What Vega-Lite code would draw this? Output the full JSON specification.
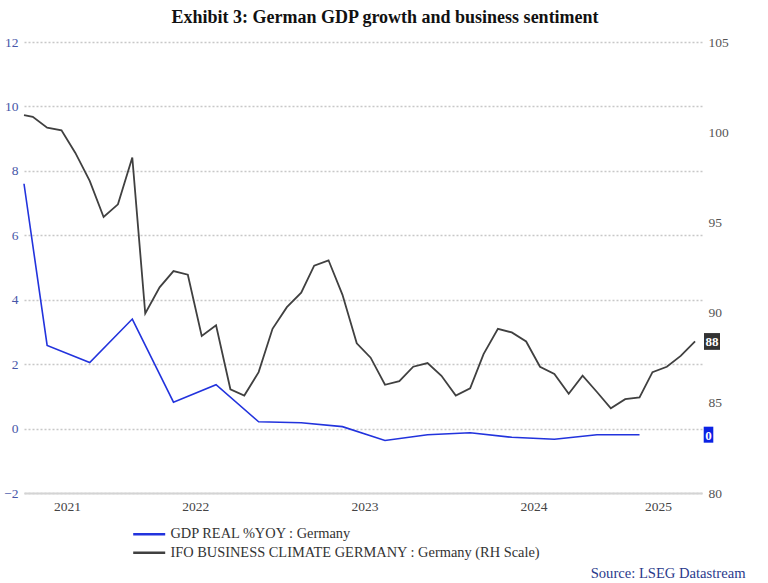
{
  "$schema": "https://vega.github.io/schema/vega-lite/v6.json",
  "width": 678,
  "height": 451,
  "autosize": {"type": "none"},
  "padding": {"left": 24, "top": 42, "right": 66, "bottom": 90},
  "background": "#ffffff",
  "title": {
    "text": "Exhibit 3: German GDP growth and business sentiment",
    "font": "Liberation Serif",
    "fontSize": 18,
    "fontWeight": "bold",
    "color": "#111111",
    "anchor": "middle",
    "dx": 22,
    "offset": 8.5
  },
  "config": {
    "view": {"stroke": null},
    "font": "Liberation Serif"
  },
  "datasets": {
    "gdp": [
      {"series": "GDP REAL %YOY : Germany", "date": "2021-06-26", "value": 7.6},
      {"series": "GDP REAL %YOY : Germany", "date": "2021-08-15", "value": 2.58},
      {"series": "GDP REAL %YOY : Germany", "date": "2021-11-15", "value": 2.05},
      {"series": "GDP REAL %YOY : Germany", "date": "2022-02-15", "value": 3.4},
      {"series": "GDP REAL %YOY : Germany", "date": "2022-05-15", "value": 0.82},
      {"series": "GDP REAL %YOY : Germany", "date": "2022-08-15", "value": 1.36},
      {"series": "GDP REAL %YOY : Germany", "date": "2022-11-15", "value": 0.21},
      {"series": "GDP REAL %YOY : Germany", "date": "2023-02-15", "value": 0.18},
      {"series": "GDP REAL %YOY : Germany", "date": "2023-05-15", "value": 0.06},
      {"series": "GDP REAL %YOY : Germany", "date": "2023-08-15", "value": -0.37},
      {"series": "GDP REAL %YOY : Germany", "date": "2023-11-15", "value": -0.19},
      {"series": "GDP REAL %YOY : Germany", "date": "2024-02-15", "value": -0.13},
      {"series": "GDP REAL %YOY : Germany", "date": "2024-05-15", "value": -0.27},
      {"series": "GDP REAL %YOY : Germany", "date": "2024-08-15", "value": -0.33},
      {"series": "GDP REAL %YOY : Germany", "date": "2024-11-15", "value": -0.19},
      {"series": "GDP REAL %YOY : Germany", "date": "2025-02-15", "value": -0.19}
    ],
    "ifo": [
      {"series": "IFO BUSINESS CLIMATE GERMANY : Germany (RH Scale)", "date": "2021-06-26", "value": 100.95},
      {"series": "IFO BUSINESS CLIMATE GERMANY : Germany (RH Scale)", "date": "2021-07-15", "value": 100.85},
      {"series": "IFO BUSINESS CLIMATE GERMANY : Germany (RH Scale)", "date": "2021-08-15", "value": 100.25},
      {"series": "IFO BUSINESS CLIMATE GERMANY : Germany (RH Scale)", "date": "2021-09-15", "value": 100.1},
      {"series": "IFO BUSINESS CLIMATE GERMANY : Germany (RH Scale)", "date": "2021-10-15", "value": 98.85},
      {"series": "IFO BUSINESS CLIMATE GERMANY : Germany (RH Scale)", "date": "2021-11-15", "value": 97.3},
      {"series": "IFO BUSINESS CLIMATE GERMANY : Germany (RH Scale)", "date": "2021-12-15", "value": 95.3},
      {"series": "IFO BUSINESS CLIMATE GERMANY : Germany (RH Scale)", "date": "2022-01-15", "value": 96.0},
      {"series": "IFO BUSINESS CLIMATE GERMANY : Germany (RH Scale)", "date": "2022-02-15", "value": 98.6},
      {"series": "IFO BUSINESS CLIMATE GERMANY : Germany (RH Scale)", "date": "2022-03-15", "value": 89.95},
      {"series": "IFO BUSINESS CLIMATE GERMANY : Germany (RH Scale)", "date": "2022-04-15", "value": 91.4},
      {"series": "IFO BUSINESS CLIMATE GERMANY : Germany (RH Scale)", "date": "2022-05-15", "value": 92.3},
      {"series": "IFO BUSINESS CLIMATE GERMANY : Germany (RH Scale)", "date": "2022-06-15", "value": 92.1},
      {"series": "IFO BUSINESS CLIMATE GERMANY : Germany (RH Scale)", "date": "2022-07-15", "value": 88.7},
      {"series": "IFO BUSINESS CLIMATE GERMANY : Germany (RH Scale)", "date": "2022-08-15", "value": 89.3},
      {"series": "IFO BUSINESS CLIMATE GERMANY : Germany (RH Scale)", "date": "2022-09-15", "value": 85.75},
      {"series": "IFO BUSINESS CLIMATE GERMANY : Germany (RH Scale)", "date": "2022-10-15", "value": 85.4},
      {"series": "IFO BUSINESS CLIMATE GERMANY : Germany (RH Scale)", "date": "2022-11-15", "value": 86.7},
      {"series": "IFO BUSINESS CLIMATE GERMANY : Germany (RH Scale)", "date": "2022-12-15", "value": 89.1},
      {"series": "IFO BUSINESS CLIMATE GERMANY : Germany (RH Scale)", "date": "2023-01-15", "value": 90.3},
      {"series": "IFO BUSINESS CLIMATE GERMANY : Germany (RH Scale)", "date": "2023-02-15", "value": 91.1},
      {"series": "IFO BUSINESS CLIMATE GERMANY : Germany (RH Scale)", "date": "2023-03-15", "value": 92.6},
      {"series": "IFO BUSINESS CLIMATE GERMANY : Germany (RH Scale)", "date": "2023-04-15", "value": 92.9},
      {"series": "IFO BUSINESS CLIMATE GERMANY : Germany (RH Scale)", "date": "2023-05-15", "value": 91.0},
      {"series": "IFO BUSINESS CLIMATE GERMANY : Germany (RH Scale)", "date": "2023-06-15", "value": 88.3},
      {"series": "IFO BUSINESS CLIMATE GERMANY : Germany (RH Scale)", "date": "2023-07-15", "value": 87.5},
      {"series": "IFO BUSINESS CLIMATE GERMANY : Germany (RH Scale)", "date": "2023-08-15", "value": 86.0},
      {"series": "IFO BUSINESS CLIMATE GERMANY : Germany (RH Scale)", "date": "2023-09-15", "value": 86.2},
      {"series": "IFO BUSINESS CLIMATE GERMANY : Germany (RH Scale)", "date": "2023-10-15", "value": 87.0},
      {"series": "IFO BUSINESS CLIMATE GERMANY : Germany (RH Scale)", "date": "2023-11-15", "value": 87.2},
      {"series": "IFO BUSINESS CLIMATE GERMANY : Germany (RH Scale)", "date": "2023-12-15", "value": 86.5},
      {"series": "IFO BUSINESS CLIMATE GERMANY : Germany (RH Scale)", "date": "2024-01-15", "value": 85.4},
      {"series": "IFO BUSINESS CLIMATE GERMANY : Germany (RH Scale)", "date": "2024-02-15", "value": 85.8},
      {"series": "IFO BUSINESS CLIMATE GERMANY : Germany (RH Scale)", "date": "2024-03-15", "value": 87.7},
      {"series": "IFO BUSINESS CLIMATE GERMANY : Germany (RH Scale)", "date": "2024-04-15", "value": 89.1},
      {"series": "IFO BUSINESS CLIMATE GERMANY : Germany (RH Scale)", "date": "2024-05-15", "value": 88.9},
      {"series": "IFO BUSINESS CLIMATE GERMANY : Germany (RH Scale)", "date": "2024-06-15", "value": 88.4},
      {"series": "IFO BUSINESS CLIMATE GERMANY : Germany (RH Scale)", "date": "2024-07-15", "value": 87.0},
      {"series": "IFO BUSINESS CLIMATE GERMANY : Germany (RH Scale)", "date": "2024-08-15", "value": 86.6},
      {"series": "IFO BUSINESS CLIMATE GERMANY : Germany (RH Scale)", "date": "2024-09-15", "value": 85.5},
      {"series": "IFO BUSINESS CLIMATE GERMANY : Germany (RH Scale)", "date": "2024-10-15", "value": 86.5},
      {"series": "IFO BUSINESS CLIMATE GERMANY : Germany (RH Scale)", "date": "2024-11-15", "value": 85.6},
      {"series": "IFO BUSINESS CLIMATE GERMANY : Germany (RH Scale)", "date": "2024-12-15", "value": 84.7},
      {"series": "IFO BUSINESS CLIMATE GERMANY : Germany (RH Scale)", "date": "2025-01-15", "value": 85.2},
      {"series": "IFO BUSINESS CLIMATE GERMANY : Germany (RH Scale)", "date": "2025-02-15", "value": 85.3},
      {"series": "IFO BUSINESS CLIMATE GERMANY : Germany (RH Scale)", "date": "2025-03-15", "value": 86.7},
      {"series": "IFO BUSINESS CLIMATE GERMANY : Germany (RH Scale)", "date": "2025-04-15", "value": 87.0},
      {"series": "IFO BUSINESS CLIMATE GERMANY : Germany (RH Scale)", "date": "2025-05-15", "value": 87.6},
      {"series": "IFO BUSINESS CLIMATE GERMANY : Germany (RH Scale)", "date": "2025-06-15", "value": 88.4}
    ],
    "gdpEnd": [{"value": -0.19, "label": "0"}],
    "ifoEnd": [{"value": 88.4, "label": "88"}]
  },
  "layer": [
    {
      "layer": [
        {
          "data": {"name": "gdp"},
          "mark": {"type": "line", "strokeWidth": 1.6, "interpolate": "linear"},
          "encoding": {
            "x": {
              "field": "date",
              "type": "temporal",
              "scale": {
                "type": "utc",
                "domain": [
                  {"year": 2021, "month": 6, "date": 26, "utc": true},
                  {"year": 2025, "month": 6, "date": 30, "utc": true}
                ]
              },
              "axis": {
                "values": [
                  {"year": 2021, "month": 9, "date": 27, "utc": true},
                  {"year": 2022, "month": 7, "date": 1, "utc": true},
                  {"year": 2023, "month": 7, "date": 2, "utc": true},
                  {"year": 2024, "month": 7, "date": 1, "utc": true},
                  {"year": 2025, "month": 3, "date": 27, "utc": true}
                ],
                "labelExpr": "utcFormat(datum.value, '%Y')",
                "grid": false,
                "ticks": false,
                "domain": true,
                "domainColor": "#d4d4d4",
                "domainWidth": 2,
                "labelFont": "Liberation Serif",
                "labelFontSize": 13.5,
                "labelColor": "#444444",
                "labelPadding": 6,
                "labelFlush": false,
                "labelOverlap": false,
                "title": "Source: LSEG Datastream",
                "titleFont": "Liberation Serif",
                "titleFontSize": 14.6,
                "titleFontWeight": "normal",
                "titleColor": "#2b3a8c",
                "titleAnchor": null,
                "titleAlign": "right",
                "titleBaseline": "alphabetic",
                "titleX": 721,
                "titleY": 84
              }
            },
            "y": {
              "field": "value",
              "type": "quantitative",
              "scale": {"domain": [-2, 12], "nice": false, "zero": false},
              "axis": {
                "orient": "left",
                "values": [-2, 0, 2, 4, 6, 8, 10, 12],
                "title": null,
                "domain": false,
                "ticks": false,
                "grid": true,
                "gridColor": "#c8c8c8",
                "gridDash": [2, 2],
                "gridWidth": 1.5,
                "labelFont": "Liberation Serif",
                "labelFontSize": 13.5,
                "labelColor": "#4656a8",
                "labelPadding": 6
              }
            },
            "color": {
              "field": "series",
              "type": "nominal",
              "scale": {
                "domain": ["GDP REAL %YOY : Germany", "IFO BUSINESS CLIMATE GERMANY : Germany (RH Scale)"],
                "range": ["#2233dd", "#404040"]
              },
              "legend": {
                "orient": "none",
                "legendX": 109,
                "legendY": 485,
                "title": null,
                "padding": 0,
                "symbolType": "M-8,0H8",
                "symbolSize": 16,
                "symbolOffset": 9,
                "symbolStrokeWidth": 2.5,
                "labelFont": "Liberation Serif",
                "labelFontSize": 14.4,
                "labelColor": "#333333",
                "labelOffset": 14,
                "labelLimit": 600,
                "rowPadding": 3.6
              }
            }
          }
        },
        {
          "data": {"name": "gdpEnd"},
          "mark": {"type": "point", "shape": "M-0.6,-1H0.6V1H-0.6Z", "filled": true, "opacity": 1, "color": "#0b22e4", "size": 256, "xOffset": 6.5},
          "encoding": {
            "x": {"datum": {"year": 2025, "month": 6, "date": 30, "utc": true}, "type": "temporal"},
            "y": {"field": "value", "type": "quantitative"}
          }
        },
        {
          "data": {"name": "gdpEnd"},
          "mark": {"type": "text", "color": "#ffffff", "font": "Liberation Serif", "fontSize": 13, "fontWeight": "bold", "align": "center", "baseline": "middle", "xOffset": 6.5, "dy": 1},
          "encoding": {
            "x": {"datum": {"year": 2025, "month": 6, "date": 30, "utc": true}, "type": "temporal"},
            "y": {"field": "value", "type": "quantitative"},
            "text": {"field": "label"}
          }
        }
      ]
    },
    {
      "layer": [
        {
          "data": {"name": "ifo"},
          "mark": {"type": "line", "strokeWidth": 1.8, "interpolate": "linear"},
          "encoding": {
            "x": {"field": "date", "type": "temporal"},
            "y": {
              "field": "value",
              "type": "quantitative",
              "scale": {"domain": [80, 105], "nice": false, "zero": false},
              "axis": {
                "orient": "right",
                "values": [80, 85, 90, 95, 100, 105],
                "title": null,
                "domain": false,
                "ticks": false,
                "grid": false,
                "labelFont": "Liberation Serif",
                "labelFontSize": 13.5,
                "labelColor": "#555555",
                "labelPadding": 6
              }
            },
            "color": {"field": "series", "type": "nominal"}
          }
        },
        {
          "data": {"name": "ifoEnd"},
          "mark": {"type": "point", "shape": "M-1,-1.05H1V1.05H-1Z", "filled": true, "opacity": 1, "color": "#333333", "size": 256, "xOffset": 10},
          "encoding": {
            "x": {"datum": {"year": 2025, "month": 6, "date": 30, "utc": true}, "type": "temporal"},
            "y": {"field": "value", "type": "quantitative"}
          }
        },
        {
          "data": {"name": "ifoEnd"},
          "mark": {"type": "text", "color": "#ffffff", "font": "Liberation Serif", "fontSize": 13, "fontWeight": "bold", "align": "center", "baseline": "middle", "xOffset": 10, "dy": 1},
          "encoding": {
            "x": {"datum": {"year": 2025, "month": 6, "date": 30, "utc": true}, "type": "temporal"},
            "y": {"field": "value", "type": "quantitative"},
            "text": {"field": "label"}
          }
        }
      ]
    }
  ],
  "resolve": {"scale": {"y": "independent"}, "axis": {"y": "independent"}}
}
